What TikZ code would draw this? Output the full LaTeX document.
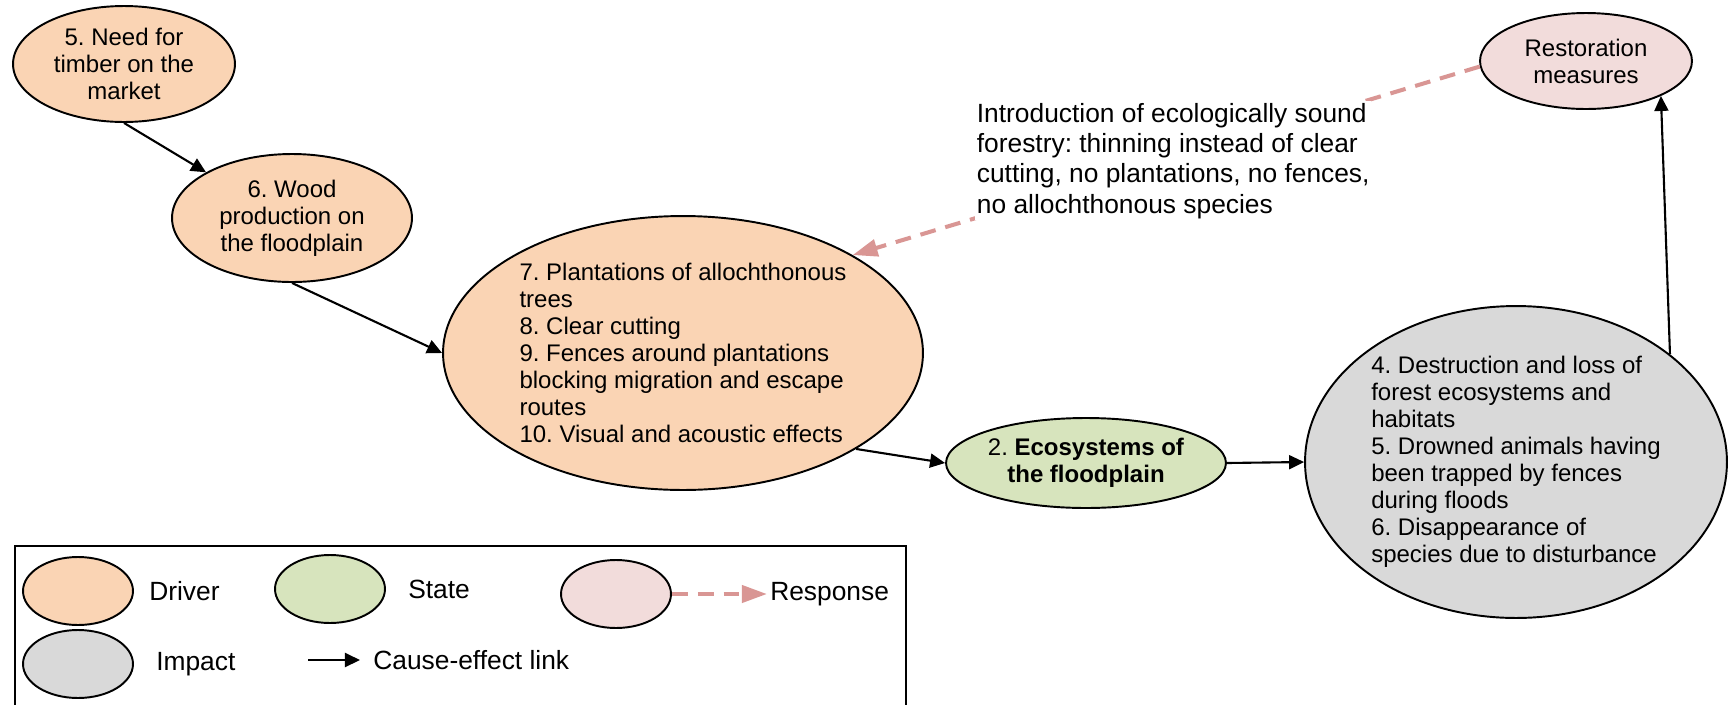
\documentclass[tikz,border=0pt]{standalone}
\usepackage{fontspec}
\setmainfont{Liberation Sans}
\usepackage{tikz}
\usetikzlibrary{arrows.meta, shapes.geometric, positioning}
\frenchspacing

\definecolor{driverfill}{HTML}{FAD4B4}
\definecolor{statefill}{HTML}{D7E4BD}
\definecolor{respfill}{HTML}{F2DCDB}
\definecolor{impactfill}{HTML}{D9D9D9}
\definecolor{respline}{HTML}{D99694}

\begin{document}
\begin{tikzpicture}[x=0.02cm, y=-0.02cm,
    oval/.style={draw, ellipse, line width=1.1pt, inner sep=0pt, align=center,
      font=\fontsize{13.66pt}{15.4pt}\selectfont},
    drvbox/.style={oval, fill=driverfill},
    stbox/.style={oval, fill=statefill},
    rspbox/.style={oval, fill=respfill},
    impbox/.style={oval, fill=impactfill},
    keyoval/.style={draw, ellipse, line width=1.1pt, minimum width=2.2cm, minimum height=1.36cm},
    lbl/.style={inner sep=0pt, font=\fontsize{15pt}{17.3pt}\selectfont},
    note/.style={lbl, fill=white, inner sep=1pt, align=left, text=black},
    arr/.style={-{Triangle[length=0.3cm, width=0.28cm]}, line width=1.2pt},
    resp/.style={-{Triangle[length=0.5cm, width=0.34cm]}, line width=2.3pt, respline,
      dash pattern=on 9pt off 5.7pt}
  ]
  \useasboundingbox (0,0) rectangle (1729,704);
  % Drivers
  \node[drvbox, minimum width=4.44cm, minimum height=2.32cm] (d5) at (124,64)
    {5. Need for\\timber on the\\market};
  \node[drvbox, minimum width=4.8cm, minimum height=2.56cm] (d6) at (292,218)
    {6. Wood\\production on\\the floodplain};
  \node[drvbox, align=left, minimum width=9.6cm, minimum height=5.48cm] (d7) at (683,353)
    {7. Plantations of allochthonous\\trees\\8. Clear cutting\\9. Fences around plantations\\
     blocking migration and escape\\routes\\10. Visual and acoustic effects};
  % State, impact, response
  \node[stbox, minimum width=5.6cm, minimum height=1.8cm] (s2) at (1086,463)
    {2. \textbf{Ecosystems of}\\\textbf{the floodplain}};
  \node[impbox, align=left, minimum width=8.44cm, minimum height=6.24cm] (imp) at (1516,462)
    {4. Destruction and loss of\\forest ecosystems and\\habitats\\5. Drowned animals having\\
     been trapped by fences\\during floods\\6. Disappearance of\\species due to disturbance};
  \node[rspbox, minimum width=4.24cm, minimum height=1.92cm] (rsp) at (1586,61)
    {Restoration\\measures};
  % Links
  \draw[arr] (d5.south) -- (d6.152);
  \draw[arr] (d6.south) -- (d7.west);
  \draw[arr] (d7.-29) -- (s2.west);
  \draw[arr] (s2.east) -- (imp.west);
  \draw[arr] (imp.35) -- (rsp.-25);
  \draw[resp] (rsp.183) -- node[note, xshift=4pt] (intro)
    {Introduction of ecologically sound\\forestry: thinning instead of clear\\
     cutting, no plantations, no fences,\\no allochthonous species} (d7.30);
  % Legend
  \draw[line width=1pt] (15,720) |- (906,546) -- (906,720);
  \node[keyoval, fill=driverfill] (ldrv) at (78,591) {};
  \node[lbl, right=0.3cm of ldrv] (tdrv) {Driver};
  \node[keyoval, fill=statefill] (lst) at (330,589) {};
  \node[lbl, right=0.44cm of lst] (tst) {State};
  \node[keyoval, fill=respfill] (lrsp) at (616,594) {};
  \coordinate[right=1.9cm of lrsp.east] (lrspend);
  \draw[resp] (lrsp.east) -- (lrspend);
  \node[lbl, right=0.06cm of lrspend] (trsp) {Response};
  \node[keyoval, fill=impactfill] (limp) at (78,664) {};
  \node[lbl, right=0.44cm of limp] (timp) {Impact};
  \coordinate (lcause) at (308,660);
  \coordinate[right=1.04cm of lcause] (lcauseend);
  \draw[arr] (lcause) -- (lcauseend);
  \node[lbl, right=0.26cm of lcauseend] (tcause) {Cause-effect link};
\end{tikzpicture}
\end{document}
